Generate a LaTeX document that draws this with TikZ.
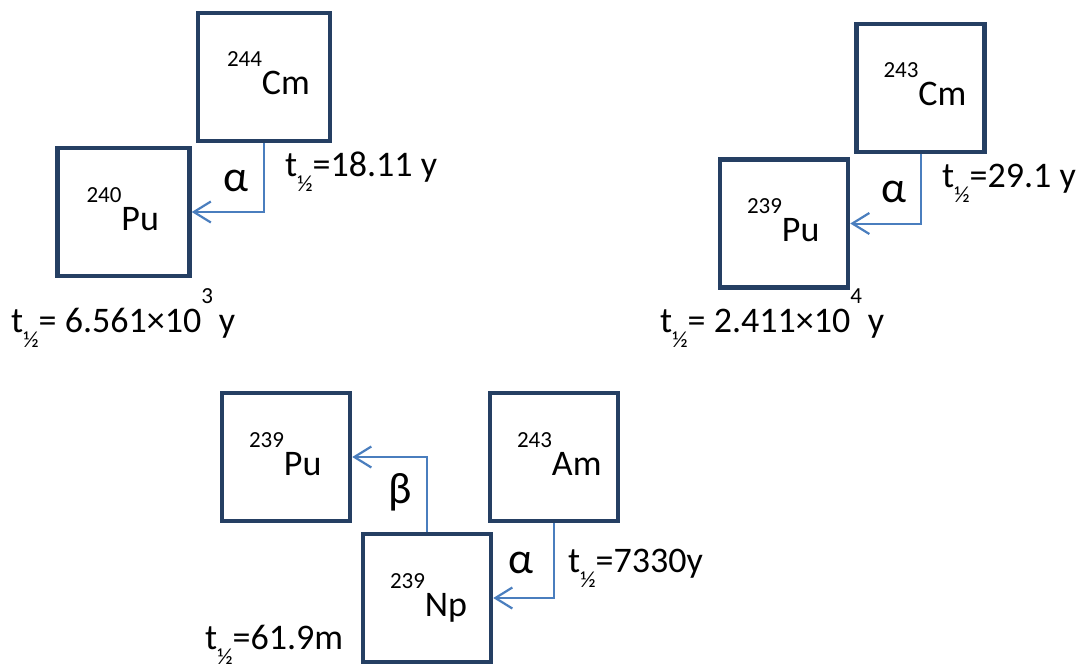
\documentclass[tikz,border=0pt]{standalone}
\usepackage{fontspec}
\setmainfont{Carlito}
\usetikzlibrary{arrows.meta}
\definecolor{boxnavy}{HTML}{253F63}
\definecolor{decayblue}{HTML}{4A7EBE}
% nuclide label: mass number raised above the element symbol
\newcommand{\nuc}[2]{\makebox[74pt][l]{\raisebox{28pt}{\fontsize{23}{23}\selectfont #1}#2}}
% half-life symbol t with lowered 1/2
\newcommand{\thalf}{t\raisebox{-15pt}{\fontsize{23}{23}\selectfont ½}}
% raised exponent
\newcommand{\expo}[1]{\raisebox{29pt}{\fontsize{23}{23}\selectfont #1}}
\begin{document}
\begin{tikzpicture}[x=1pt,y=-1pt,
  nuclide/.style={draw=boxnavy, line width=4.5pt, inner xsep=27pt, inner ysep=0pt,
    minimum width=128pt, minimum height=128pt, text height=40pt, text depth=4pt,
    font=\fontsize{36}{40}\selectfont},
  decay/.style={draw=decayblue, line width=2pt,
    -{Straight Barb[length=17pt,width=21pt,line width=2.2pt]}},
  greek/.style={anchor=base, inner sep=0pt, font=\fontsize{44}{48}\selectfont},
  halflife/.style={anchor=base west, inner sep=0pt, font=\fontsize{36}{40}\selectfont}]
\useasboundingbox (0,0) rectangle (1082,666);

% Cm-244 -> Pu-240
\node[nuclide, minimum width=132pt] (cmA) at (264,77) {\nuc{244}{Cm}};
\node[nuclide, minimum width=132pt] (puA) at (123.5,212) {\nuc{240}{Pu}};
\draw[decay] (cmA.south) |- (puA.east);
\node[greek] (alA) at (236,192) {α};
\node[halflife] (hlCmA) at (285,177) {\thalf=18.11 y};
\node[halflife] (hlPuA) at (11,332) {\thalf= 6.561×10\expo{3}\,y};

% Cm-243 -> Pu-239
\node[nuclide] (cmB) at (920.5,88) {\nuc{243}{Cm}};
\node[nuclide] (puB) at (784,223.5) {\nuc{239}{Pu}};
\draw[decay] (cmB.south) |- (puB.east);
\node[greek] (alB) at (894,203) {α};
\node[halflife] (hlCmB) at (942,188) {\thalf=29.1 y};
\node[halflife] (hlPuB) at (660,332) {\thalf= 2.411×10\expo{4}\,y};

% Am-243 -> Np-239 -> Pu-239
\node[nuclide, minimum width=124pt] (puC) at (286,457) {\nuc{239}{Pu}};
\node[nuclide, minimum width=124pt] (amC) at (554,457) {\nuc{243}{Am}};
\node[nuclide, minimum width=124pt] (npC) at (427,598) {\nuc{239}{Np}};
\draw[decay] (npC.north) |- (puC.east);
\draw[decay] (amC.south) |- (npC.east);
\node[greek] (beC) at (400,503) {β};
\node[greek] (alC) at (521,573) {α};
\node[halflife] (hlAmC) at (568,572) {\thalf=7330y};
\node[halflife] (hlNpC) at (205,649) {\thalf=61.9m};
\end{tikzpicture}
\end{document}
